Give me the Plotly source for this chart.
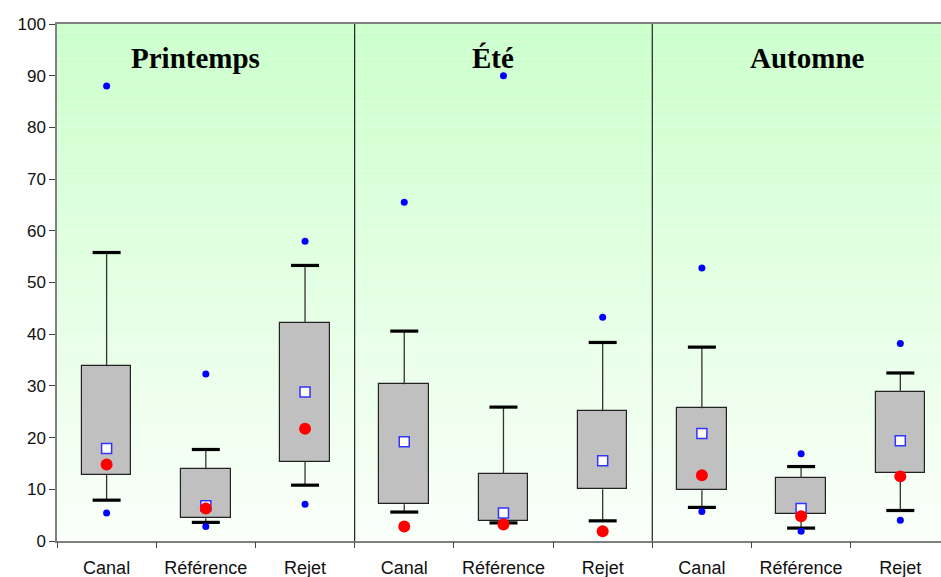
import plotly.graph_objects as go

seasons = ["Printemps", "Été", "Automne"]
groups = ["Canal", "Référence", "Rejet"]
tick_labels = groups * 3

# per box (Printemps: Canal, Référence, Rejet; Été: ...; Automne: ...)
q1 = [12.8, 4.4, 15.3, 7.1, 3.9, 10.0, 9.8, 5.2, 13.2]
q3 = [33.8, 13.9, 42.2, 30.3, 13.0, 25.1, 25.7, 12.2, 28.8]
whisker_low = [7.9, 3.6, 10.8, 5.6, 3.5, 3.9, 6.5, 2.5, 5.9]
whisker_high = [55.8, 17.7, 53.3, 40.6, 25.9, 38.4, 37.5, 14.4, 32.5]
mean_vals = [17.9, 6.8, 28.8, 19.2, 5.4, 15.5, 20.8, 6.3, 19.4]
median_vals = [14.8, 6.3, 21.7, 2.8, 3.2, 1.9, 12.7, 4.8, 12.5]
outlier_high = [88.0, 32.3, 58.0, 65.5, 90.0, 43.3, 52.8, 16.9, 38.2]
outlier_low = [5.4, 2.8, 7.1, None, None, None, 5.7, 1.9, 4.0]

pos = list(range(len(q1)))

fig = go.Figure()

# boxes
fig.add_trace(go.Bar(
    x=pos, y=[b - a for a, b in zip(q1, q3)], base=q1, width=0.5,
    marker=dict(color="#c0c0c0", line=dict(color="#222222", width=1.2)),
    hoverinfo="skip", showlegend=False))

# whisker stems
sx, sy = [], []
for i in pos:
    sx += [i, i, None, i, i, None]
    sy += [q3[i], whisker_high[i], None, q1[i], whisker_low[i], None]
fig.add_trace(go.Scatter(x=sx, y=sy, mode="lines",
                         line=dict(color="#333333", width=1.3),
                         hoverinfo="skip", showlegend=False))

# whisker caps
fig.add_trace(go.Scatter(
    x=pos + pos, y=whisker_high + whisker_low, mode="markers",
    marker=dict(symbol="line-ew", size=20, line=dict(color="black", width=3.2)),
    hoverinfo="skip", showlegend=False))

# outliers
ox, oy = [], []
for i in pos:
    for v in (outlier_high[i], outlier_low[i]):
        if v is not None:
            ox.append(i)
            oy.append(v)
fig.add_trace(go.Scatter(x=ox, y=oy, mode="markers",
                         marker=dict(color="#0000ff", size=7),
                         showlegend=False))

# mean squares
fig.add_trace(go.Scatter(x=pos, y=mean_vals, mode="markers",
                         marker=dict(symbol="square", color="white", size=10,
                                     line=dict(color="#3333ff", width=1.5)),
                         showlegend=False))

# median dots
fig.add_trace(go.Scatter(x=pos, y=median_vals, mode="markers",
                         marker=dict(color="#ff0000", size=12),
                         showlegend=False))

# gradient background
shapes = []
n = 60
top = (204, 255, 204)
bot = (250, 255, 250)
for k in range(n):
    t = k / (n - 1)
    c = tuple(int(round(top[j] + (bot[j] - top[j]) * t)) for j in range(3))
    shapes.append(dict(type="rect", xref="paper", yref="paper",
                       x0=0, x1=1, y0=1 - (k + 1) / n, y1=1 - k / n,
                       fillcolor="rgb(%d,%d,%d)" % c, line=dict(width=0),
                       layer="below"))
# season dividers
for xb in (2.5, 5.5):
    shapes.append(dict(type="line", xref="x", yref="y", x0=xb, x1=xb, y0=0, y1=100,
                       line=dict(color="#222222", width=1.2)))

annotations = []
title_x = [0.9, 3.89, 7.06]
for s, xx in zip(seasons, title_x):
    annotations.append(dict(x=xx, y=93.5, xref="x", yref="y", text="<b>%s</b>" % s,
                            showarrow=False,
                            font=dict(family="Liberation Serif", size=29, color="black")))

xr = [-0.5, 8.41]
fig.update_layout(
    width=941, height=577,
    margin=dict(l=57, r=0, t=24, b=36, autoexpand=False),
    paper_bgcolor="white", plot_bgcolor="rgba(0,0,0,0)",
    shapes=shapes, annotations=annotations,
    bargap=0, showlegend=False,
    font=dict(family="Liberation Sans", size=17, color="#111111"),
    xaxis=dict(range=xr, tickmode="array", tickvals=pos, ticktext=tick_labels,
               ticks="outside", ticklen=10, tickcolor="rgba(0,0,0,0)",
               showline=True, linecolor="#808080", linewidth=1.5, mirror=True,
               showgrid=False, zeroline=False, automargin=False,
               tickfont=dict(family="Liberation Sans", size=18, color="#111111")),
    xaxis2=dict(range=xr, overlaying="x", matches="x", side="bottom",
                tickmode="array", tickvals=[i - 0.5 for i in range(10)],
                ticks="outside", ticklen=6, tickcolor="#444444", tickwidth=1.2,
                showticklabels=False, showgrid=False, zeroline=False, showline=False,
                automargin=False),
    yaxis=dict(range=[0, 100], tickmode="linear", dtick=10, ticks="outside",
               ticklen=6, tickcolor="#444444", showline=True, linecolor="#808080",
               linewidth=1.5, showgrid=False, zeroline=False, automargin=False,
               tickfont=dict(family="Liberation Sans", size=17, color="#111111")),
)
# dummy trace to activate xaxis2
fig.add_trace(go.Scatter(x=[None], y=[None], xaxis="x2", showlegend=False))

fig.write_html("out.html")
